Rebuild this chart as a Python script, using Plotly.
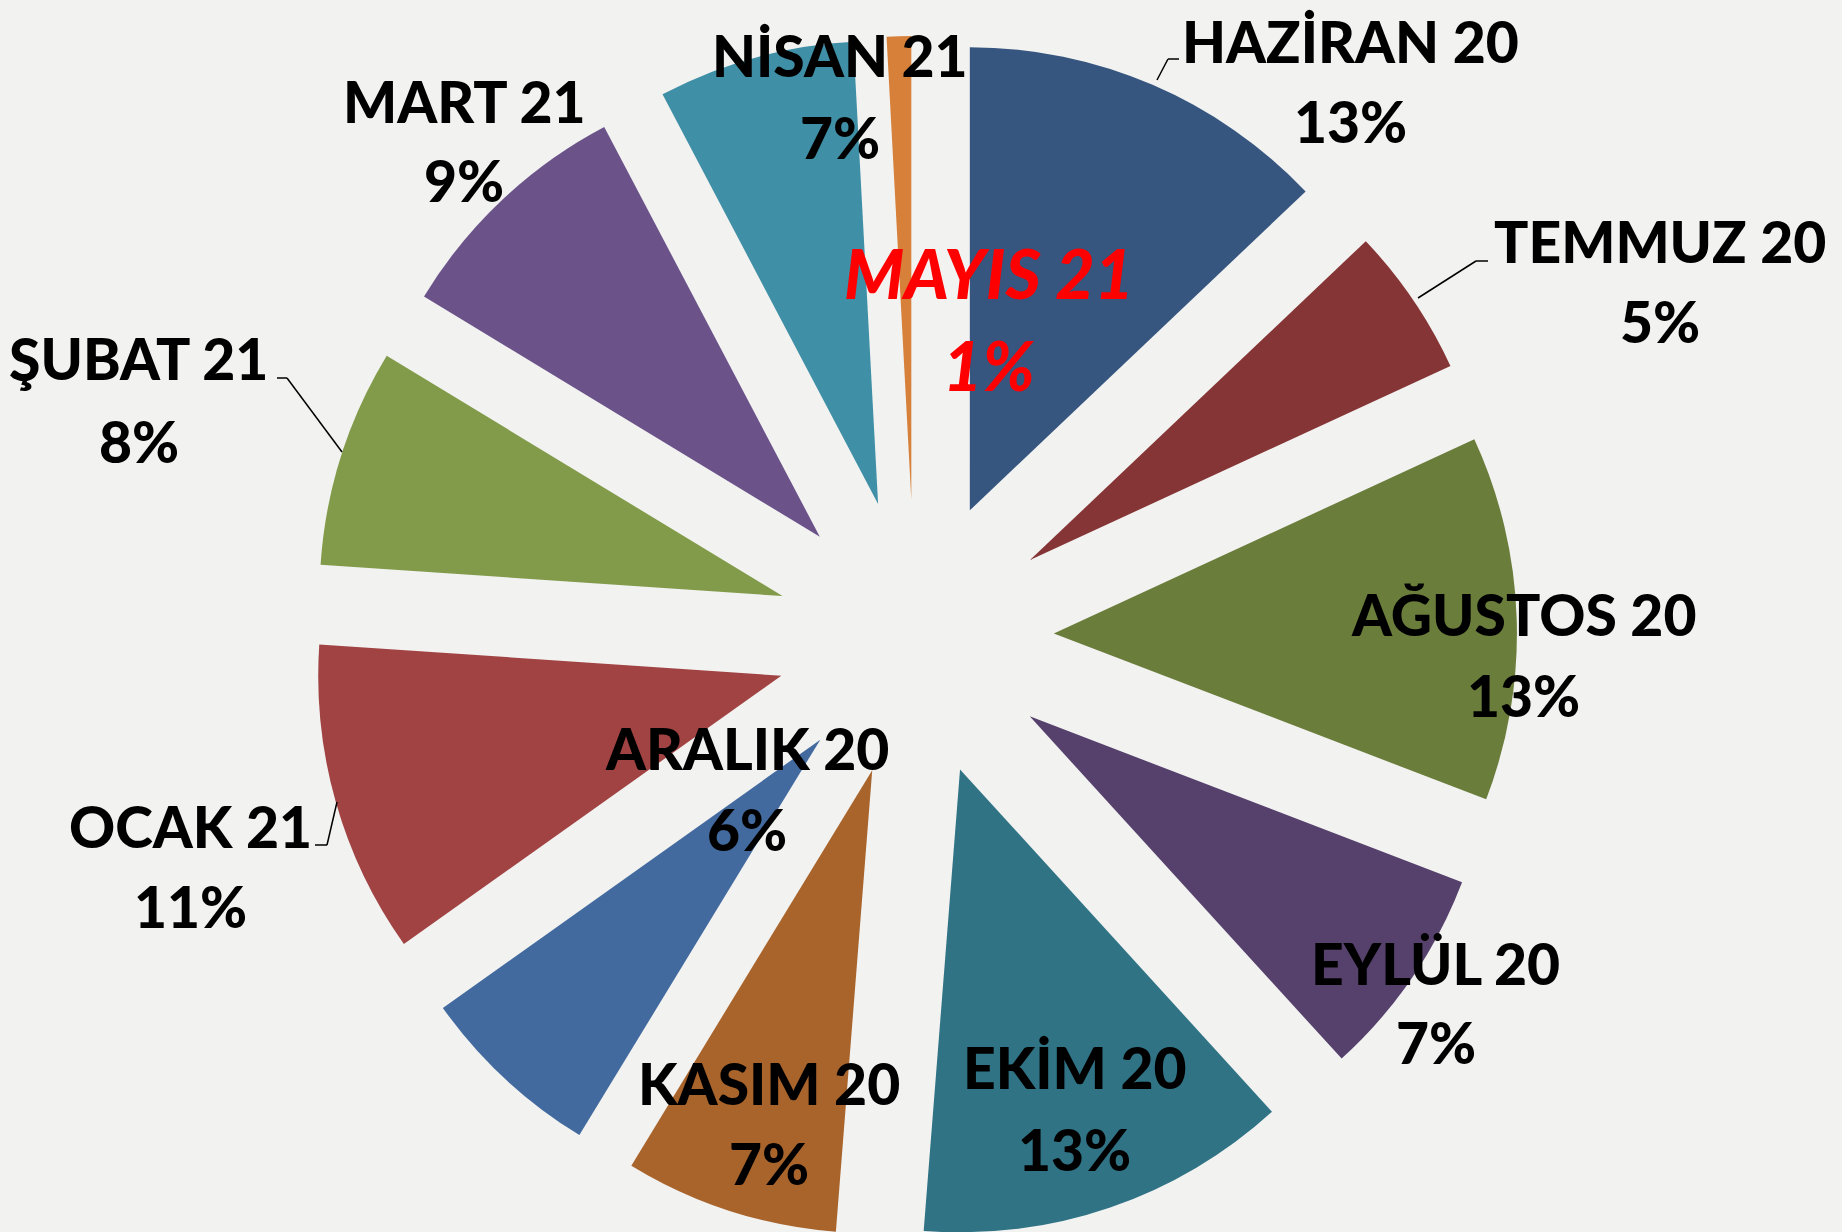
import plotly.graph_objects as go

# aylar ve paylar (%)
months = ["HAZİRAN 20", "TEMMUZ 20", "AĞUSTOS 20", "EYLÜL 20", "EKİM 20", "KASIM 20",
          "ARALIK 20", "OCAK 21", "ŞUBAT 21", "MART 21", "NİSAN 21", "MAYIS 21"]
shares = [12.9, 5.2, 12.7, 7.4, 13.0, 7.45, 6.45, 10.9, 7.6, 8.6, 6.85, 0.85]
colors = ["#36567F", "#853535", "#6B7D3B", "#56406C", "#2F7385", "#A9642C",
          "#426A9E", "#A04342", "#829B4A", "#6B5389", "#3F8FA6", "#D6803A"]

W, H = 1842, 1240   # a bit taller than the window, bottom gets clipped
S = 1842 / 1568     # label positions were read at 1568 wide

# label line centres: (x, y of name line, y of percent line)
label_pos = [(1150, 35, 103), (1413, 205, 273), (1297, 523, 592), (1222, 820, 887),
             (915, 908, 978), (655, 922, 990), (636, 637, 706), (162, 703, 771),
             (118, 305, 375), (395, 86, 153), (715, 47, 117), (842, 232, 310)]

# leader lines in pixels
leaders = [
    [(1157, 80), (1168, 59), (1179, 59)],
    [(1418, 298), (1476, 261), (1488, 261)],
    [(342, 452), (287, 378), (277, 378)],
    [(337, 802), (327, 845), (315, 845)],
]


def px(x, y):
    return x / W, 1 - y / H


fig = go.Figure()
fig.add_trace(go.Pie(
    labels=months, values=shares, sort=False, direction="clockwise", rotation=0,
    marker=dict(colors=colors, line=dict(width=0)),
    pull=[0.30] * len(shares), textinfo="none", hoverinfo="label+percent",
    domain=dict(x=[313 / W, 1517 / W], y=[0, 1 - 36 / H]),
    showlegend=False,
))

total = sum(shares)
for name, val, (x, y1, y2) in zip(months, shares, label_pos):
    red = name.startswith("MAYIS")
    pct = f"{round(100 * val / total)}%"
    if red:
        font = dict(family="Lato", size=68, weight=900, style="italic", color="#FF0000")
    else:
        font = dict(family="Lato", size=57, weight=900, color="#000000")
    for txt, yy in ((name, y1), (pct, y2)):
        ax, ay = px(x * S, yy * S)
        fig.add_annotation(
            x=ax, y=ay, xref="paper", yref="paper", text=txt, showarrow=False,
            xanchor="center", yanchor="middle", font=font,
        )

for pts in leaders:
    for (x0, y0), (x1, y1) in zip(pts[:-1], pts[1:]):
        a0, b0 = px(x0, y0)
        a1, b1 = px(x1, y1)
        fig.add_shape(type="line", xref="paper", yref="paper", x0=a0, y0=b0, x1=a1, y1=b1,
                      line=dict(color="#000000", width=1.5))

fig.update_layout(
    width=W, height=H,
    paper_bgcolor="#F2F2F1", plot_bgcolor="#F2F2F1",
    margin=dict(l=0, r=0, t=0, b=0),
)

fig.write_html("out.html", config={"displayModeBar": False},
               post_script="document.body.style.margin='0';document.body.style.overflow='hidden';")
